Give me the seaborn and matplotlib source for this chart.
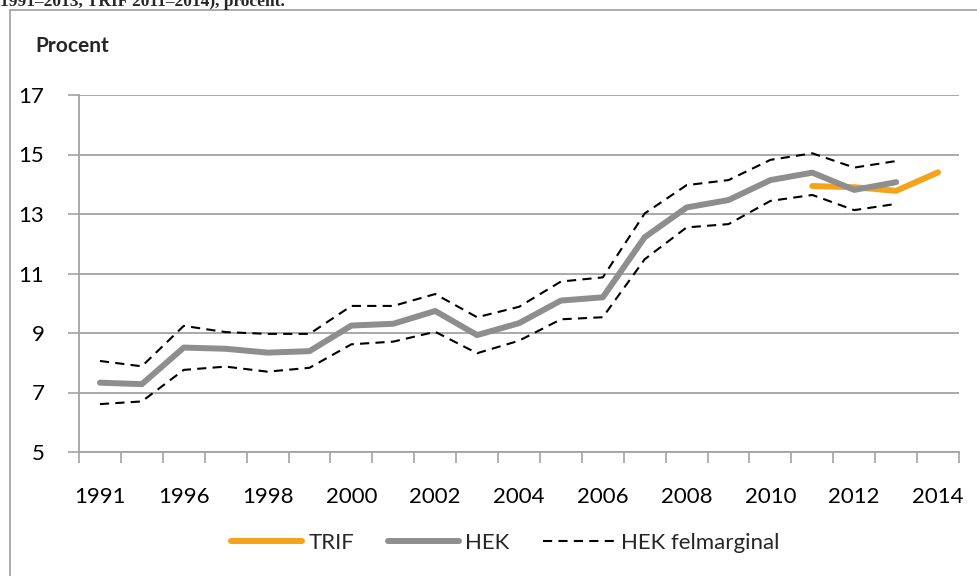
import numpy as np
import pandas as pd
import matplotlib
matplotlib.use("Agg")
import matplotlib.pyplot as plt
from matplotlib.lines import Line2D
from matplotlib.patches import Rectangle
import seaborn as sns

# ---- data ----
years = ["1991", "1995", "1996", "1997", "1998", "1999", "2000", "2001", "2002",
         "2003", "2004", "2005", "2006", "2007", "2008", "2009", "2010", "2011",
         "2012", "2013", "2014"]
hek_years = years[:20]
trif_years = ["2011", "2012", "2013", "2014"]
hek = [7.33, 7.28, 8.51, 8.47, 8.34, 8.39, 9.25, 9.31, 9.74, 8.93, 9.33, 10.09,
       10.20, 12.22, 13.22, 13.47, 14.14, 14.39, 13.81, 14.07]
hek_upper = [8.06, 7.88, 9.24, 9.03, 8.97, 8.97, 9.91, 9.91, 10.31, 9.53, 9.88,
             10.73, 10.87, 13.02, 13.97, 14.14, 14.82, 15.04, 14.56, 14.78]
hek_lower = [6.61, 6.70, 7.76, 7.87, 7.70, 7.83, 8.62, 8.71, 9.04, 8.32, 8.74,
             9.46, 9.53, 11.48, 12.55, 12.66, 13.44, 13.64, 13.13, 13.34]
trif = [13.94, 13.90, 13.78, 14.40]
shown_labels = ["1991", "1996", "1998", "2000", "2002", "2004", "2006", "2008",
                "2010", "2012", "2014"]
yticks = [5, 7, 9, 11, 13, 15, 17]

sns.set_theme(style="white")
FONT = ["Lato", "DejaVu Sans"]
plt.rcParams["font.family"] = FONT

ORANGE = "#F5A31A"
GRAY = "#8E8E8E"
GRID = "#A3A3A3"

W, H = 977, 576
fig = plt.figure(figsize=(W / 100, H / 100), dpi=100)
left, right, top, bottom = 79, 959, 95, 452
ax = fig.add_axes([left / W, 1 - bottom / H, (right - left) / W, (bottom - top) / H])

pos = {y: i for i, y in enumerate(years)}
df_hek = pd.DataFrame({"x": [pos[y] for y in hek_years], "hek": hek,
                       "upper": hek_upper, "lower": hek_lower})
df_trif = pd.DataFrame({"x": [pos[y] for y in trif_years], "trif": trif})

dash = (0, (4.4, 3.0))
sns.lineplot(data=df_trif, x="x", y="trif", ax=ax, color=ORANGE, lw=4.3,
             solid_capstyle="round", legend=False, zorder=3)
sns.lineplot(data=df_hek, x="x", y="hek", ax=ax, color=GRAY, lw=4.3,
             solid_capstyle="round", legend=False, zorder=4)
sns.lineplot(data=df_hek, x="x", y="upper", ax=ax, color="black", lw=1.5,
             linestyle=dash, legend=False, zorder=5)
sns.lineplot(data=df_hek, x="x", y="lower", ax=ax, color="black", lw=1.5,
             linestyle=dash, legend=False, zorder=5)

ax.set_xlim(-0.5, len(years) - 0.5)
ax.set_ylim(5, 17)
ax.set_yticks(yticks)
ax.set_yticklabels([str(v) for v in yticks])
ax.yaxis.grid(True, color=GRID, lw=1.3)
ax.xaxis.grid(False)
ax.set_axisbelow(True)

# boundary ticks (major) and labels at category centres (minor)
ax.set_xticks(np.arange(-0.5, len(years), 1.0))
ax.set_xticklabels([""] * len(np.arange(-0.5, len(years), 1.0)))
ax.set_xticks([pos[y] for y in shown_labels], minor=True)
ax.set_xticklabels(shown_labels, minor=True)
ax.tick_params(axis="x", which="major", length=8, width=1.2, color=GRID, direction="out", bottom=True)
ax.tick_params(axis="x", which="minor", length=0, pad=25, labelsize=16, labelcolor="black")
ax.tick_params(axis="y", length=8, width=1.2, color=GRID, direction="out", left=True,
               pad=17, labelsize=16, labelcolor="black")

for s in ["top", "right"]:
    ax.spines[s].set_visible(False)
for s in ["left", "bottom"]:
    ax.spines[s].set_color(GRID)
    ax.spines[s].set_linewidth(1.3)

ax.set_xlabel("")
ax.set_ylabel("")

fig.text(35 / W, 1 - 46 / H, "Procent", fontsize=15, fontweight="bold",
         va="center", ha="left", family=FONT)

# partially visible caption line at top (cut off as in the reference)
fig.text(0.0, 1 - 6 / H, "1991–2013, TRIF 2011–2014), procent.", fontsize=12.5,
         fontweight="bold", family=["Liberation Serif", "DejaVu Serif"],
         va="baseline", ha="left")

# outer frame
fig.add_artist(Rectangle((9.5 / W, -0.1), 1.5, 1.1 - 9.5 / H, transform=fig.transFigure,
                         fill=False, edgecolor="#A6A6A6", lw=1.3))

handles = [
    Line2D([], [], color=ORANGE, lw=4.3, solid_capstyle="round"),
    Line2D([], [], color=GRAY, lw=4.3, solid_capstyle="round"),
    Line2D([], [], color="black", lw=1.5, linestyle=dash),
]
fig.legend(handles, ["TRIF", "HEK", "HEK felmarginal"], loc="center",
           bbox_to_anchor=(505 / W, 1 - 543 / H), ncol=3, frameon=False,
           fontsize=16, handlelength=3.2, handletextpad=0.3, columnspacing=1.5)

fig.savefig("out.png", dpi=100)
